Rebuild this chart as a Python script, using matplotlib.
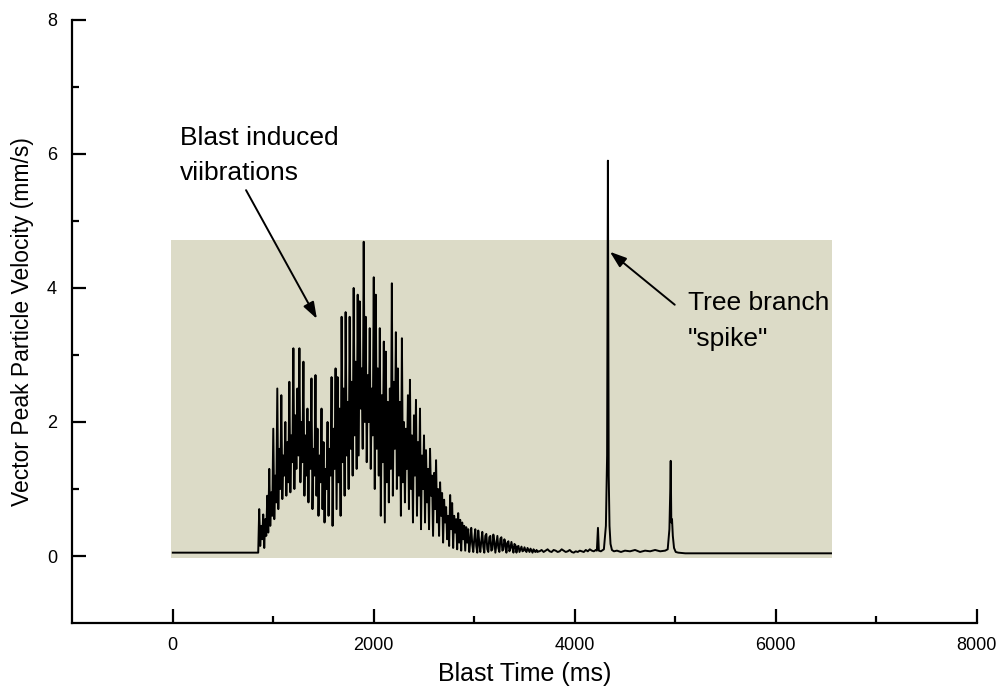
import numpy as np
import matplotlib
matplotlib.use("Agg")
import matplotlib.pyplot as plt
from matplotlib.patches import Rectangle

plt.rcParams['font.family'] = ['Liberation Sans', 'DejaVu Sans']

# quiet record before the blast arrives (ms, mm/s)
pre_time = [0, 848]
pre_vel = [0.05, 0.05]

# blast burst sampled every 10 ms starting at 850 ms
burst_start = 850
burst_step = 10
burst_vel = [
    0.05, 0.70, 0.15, 0.45, 0.25, 0.62, 0.12, 0.55, 0.30, 0.90,
    0.35, 1.30, 0.45, 0.95, 0.60, 1.90, 0.55, 1.20, 0.80, 2.50,
    0.70, 1.60, 1.00, 2.40, 0.85, 1.50, 1.20, 2.00, 0.90, 1.70,
    1.10, 2.60, 0.95, 1.80, 1.40, 3.10, 1.00, 2.10, 1.30, 2.50,
    1.50, 3.10, 1.10, 2.00, 1.40, 2.90, 0.90, 1.80, 1.20, 2.20,
    0.80, 2.00, 1.30, 2.65, 0.70, 1.60, 1.20, 2.70, 0.90, 1.90,
    0.60, 1.50, 1.10, 2.20, 0.70, 1.70, 0.50, 1.30, 1.00, 2.00,
    0.60, 1.60, 1.20, 2.67, 0.45, 1.90, 1.30, 2.80, 0.70, 2.67,
    1.10, 2.20, 0.60, 3.57, 1.40, 2.50, 0.90, 3.64, 1.50, 2.30,
    1.00, 3.57, 1.60, 2.60, 1.20, 4.00, 1.80, 2.90, 1.30, 3.90,
    1.50, 3.80, 2.20, 2.80, 1.60, 4.69, 2.00, 3.57, 1.40, 2.70,
    2.00, 3.40, 1.30, 2.50, 1.80, 4.16, 1.00, 3.90, 1.60, 2.80,
    1.20, 3.40, 0.60, 2.40, 1.40, 3.20, 0.50, 3.05, 1.10, 2.30,
    0.80, 2.50, 1.30, 4.07, 0.90, 2.60, 1.60, 3.34, 1.00, 2.80,
    1.20, 2.30, 0.60, 3.25, 1.10, 2.00, 0.80, 1.90, 1.30, 2.40,
    0.70, 2.63, 1.00, 1.80, 0.50, 2.10, 1.20, 2.33, 0.60, 1.70,
    0.90, 2.20, 0.40, 1.50, 1.00, 1.80, 0.50, 1.58, 0.80, 1.30,
    0.40, 1.60, 0.90, 1.20, 0.30, 1.24, 0.70, 1.43, 0.50, 1.00,
    0.30, 1.10, 0.60, 0.94, 0.20, 0.84, 0.50, 0.73, 0.25, 0.60,
    0.15, 0.91, 0.40, 0.79, 0.12, 0.60, 0.35, 0.55, 0.10, 0.64,
    0.20, 0.54, 0.08, 0.50, 0.25, 0.45, 0.08, 0.43, 0.20, 0.40,
    0.06, 0.22, 0.42, 0.18, 0.06, 0.25, 0.40, 0.15, 0.05, 0.38,
    0.20, 0.06, 0.22, 0.36, 0.14, 0.05, 0.30, 0.33, 0.10, 0.06,
    0.28, 0.30, 0.08, 0.10, 0.32, 0.22, 0.05, 0.18, 0.30, 0.12,
    0.06, 0.26, 0.28, 0.08, 0.10, 0.25, 0.18, 0.05, 0.20, 0.22,
    0.07, 0.12, 0.21, 0.12, 0.05, 0.18, 0.16, 0.05, 0.14, 0.15,
    0.06, 0.10, 0.14, 0.07, 0.08, 0.13, 0.08, 0.06, 0.12, 0.09,
    0.06, 0.11, 0.08, 0.05, 0.10, 0.07, 0.06, 0.09, 0.06, 0.07,
]

# low background noise after the burst, every 20 ms from 3650 ms
noise_start = 3650
noise_step = 20
noise_vel = [
    0.07, 0.09, 0.06, 0.08, 0.10, 0.07, 0.06, 0.09, 0.08, 0.06,
    0.07, 0.10, 0.08, 0.06, 0.07, 0.09, 0.06, 0.05, 0.07, 0.06,
    0.08, 0.07, 0.06, 0.09, 0.07, 0.10, 0.08, 0.07, 0.09,
]

# tree branch events and the trailing record
event_time = [4220, 4231, 4240, 4260, 4290, 4310, 4322, 4330, 4338, 4346,
              4356, 4370, 4390, 4420, 4460, 4500, 4550, 4600, 4650, 4700,
              4750, 4800, 4850, 4900, 4925, 4942, 4950, 4955, 4961, 4968,
              4976, 4988, 5005, 5030, 5100, 5300, 5600, 6000, 6300, 6550]
event_vel = [0.08, 0.42, 0.08, 0.07, 0.10, 0.45, 1.50, 5.90, 1.20, 0.45,
             0.18, 0.09, 0.07, 0.08, 0.06, 0.08, 0.07, 0.09, 0.06, 0.08,
             0.07, 0.09, 0.07, 0.08, 0.10, 0.40, 0.95, 1.42, 0.50, 0.55,
             0.30, 0.12, 0.06, 0.05, 0.04, 0.04, 0.04, 0.04, 0.04, 0.04]

burst_time = burst_start + burst_step * np.arange(len(burst_vel))
noise_time = noise_start + noise_step * np.arange(len(noise_vel))

time = np.concatenate([pre_time, burst_time, noise_time, event_time])
vel = np.concatenate([pre_vel, burst_vel, noise_vel, event_vel])

fig = plt.figure(figsize=(10, 6.91), dpi=100)
ax = fig.add_axes([0.0723, 0.0984, 0.9044, 0.8727])

# shaded panel behind the record
ax.add_patch(Rectangle((-20, -0.03), 6580, 4.75, facecolor='#dcdbc7',
                       edgecolor='none', zorder=0))

ax.plot(time, vel, color='black', lw=1.4, zorder=2)

ax.set_xlim(-1000, 8000)
ax.set_ylim(-1, 8)
ax.set_xticks([0, 2000, 4000, 6000, 8000])
ax.set_xticks([1000, 3000, 5000, 7000], minor=True)
ax.set_yticks([0, 2, 4, 6, 8])
ax.set_yticks([1, 3, 5, 7], minor=True)

for s in ('top', 'right'):
    ax.spines[s].set_visible(False)
for s in ('left', 'bottom'):
    ax.spines[s].set_linewidth(1.6)

ax.tick_params(which='major', direction='in', length=10, width=1.6,
               labelsize=13, pad=10)
ax.tick_params(which='minor', direction='in', length=5, width=1.6)
ax.tick_params(axis='y', which='major', pad=11)

ax.set_xlabel('Blast Time (ms)', fontsize=18, labelpad=6)
ax.set_ylabel('Vector Peak Particle Velocity (mm/s)', fontsize=16.5,
              labelpad=9)

arrow = dict(arrowstyle='-|>,head_length=1.0,head_width=0.35', color='black',
             lw=1.4, shrinkA=0, shrinkB=0)

ax.text(74, 6.42, 'Blast induced\nviibrations', fontsize=19, va='top',
        ha='left', linespacing=1.6)
ax.annotate('', xy=(1434, 3.54), xytext=(729, 5.46), arrowprops=arrow)

ax.text(5124, 3.95, 'Tree branch\n"spike"', fontsize=19, va='top',
        ha='left', linespacing=1.6)
ax.annotate('', xy=(4350, 4.54), xytext=(4995, 3.75), arrowprops=arrow)

fig.savefig('out.png', dpi=100)
